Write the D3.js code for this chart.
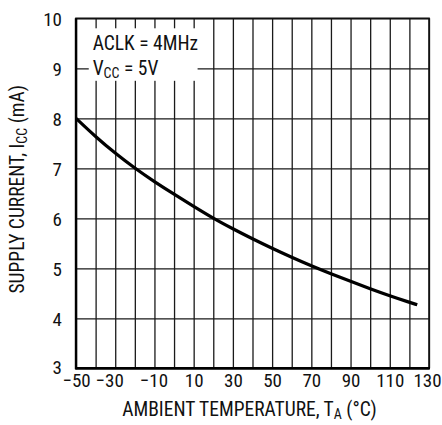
<!DOCTYPE html>
<html>
<head>
<meta charset="utf-8">
<script src="https://cdn.jsdelivr.net/npm/d3@7"></script>
<style>
  html, body { margin: 0; padding: 0; background: #fff; }
  svg { display: block; }
  text { font-family: "Liberation Sans Narrow", "Arial Narrow", "Roboto Condensed", "DejaVu Sans Condensed", sans-serif; fill: #111; }
</style>
</head>
<body>
<svg id="chart" width="442" height="425"></svg>
<script>
// Data
const temperature = [-50, -40, -30, -20, -10, 0, 10, 20, 30, 40, 50, 60, 70, 80, 90, 100, 110, 120, 124];
const supplyCurrent = [8.0, 7.63, 7.30, 7.0, 6.73, 6.48, 6.24, 6.0, 5.79, 5.59, 5.40, 5.22, 5.05, 4.89, 4.74, 4.59, 4.45, 4.32, 4.27];
const xTicks = [-50, -40, -30, -20, -10, 0, 10, 20, 30, 40, 50, 60, 70, 80, 90, 100, 110, 120, 130];
const xTickLabels = [-50, -30, -10, 10, 30, 50, 70, 90, 110, 130];
const yTicks = [3, 4, 5, 6, 7, 8, 9, 10];

const svg = d3.select("#chart");
const mLeft = 76, mRight = 429, mTop = 18.3, mBottom = 368.3;
const x = d3.scaleLinear().domain([-50, 130]).range([mLeft, mRight]);
const y = d3.scaleLinear().domain([3, 10]).range([mBottom, mTop]);
const fs = 19, fsT = 19.5, fsSub = 14;

// vertical grid
svg.append("g")
  .attr("transform", `translate(0,${mBottom})`)
  .call(d3.axisBottom(x).tickValues(xTicks).tickSize(-(mBottom - mTop)).tickFormat(""))
  .call(g => g.select(".domain").remove())
  .call(g => g.selectAll(".tick line").attr("stroke", "#1a1a1a").attr("stroke-width", 1.3));

// horizontal grid
svg.append("g")
  .attr("transform", `translate(${mLeft},0)`)
  .call(d3.axisLeft(y).tickValues(yTicks).tickSize(-(mRight - mLeft)).tickFormat(""))
  .call(g => g.select(".domain").remove())
  .call(g => g.selectAll(".tick line").attr("stroke", "#1a1a1a").attr("stroke-width", 1.3));

// legend white box
svg.append("rect")
  .attr("x", x(-43.5)).attr("y", y(9.8))
  .attr("width", x(12) - x(-43.5)).attr("height", y(8.75) - y(9.8))
  .attr("fill", "#fff");

// frame
svg.append("rect")
  .attr("x", mLeft).attr("y", mTop).attr("width", mRight - mLeft).attr("height", mBottom - mTop)
  .attr("fill", "none").attr("stroke", "#111").attr("stroke-width", 1.6);
svg.append("line").attr("x1", mLeft).attr("x2", mLeft).attr("y1", mTop).attr("y2", mBottom + 1)
  .attr("stroke", "#000").attr("stroke-width", 2.4);
svg.append("line").attr("x1", mLeft - 1).attr("x2", mRight + 1).attr("y1", mBottom).attr("y2", mBottom)
  .attr("stroke", "#000").attr("stroke-width", 2.4);

// curve
const line = d3.line()
  .x((d, i) => x(temperature[i]))
  .y(d => y(d))
  .curve(d3.curveBasis);
svg.append("path")
  .datum(supplyCurrent)
  .attr("d", line)
  .attr("fill", "none")
  .attr("stroke", "#000")
  .attr("stroke-width", 3.2)
  .attr("stroke-linecap", "butt");

// y tick labels
svg.append("g")
  .attr("transform", `translate(${mLeft},0)`)
  .call(d3.axisLeft(y).tickValues(yTicks).tickSize(0).tickPadding(14).tickFormat(d3.format("d")))
  .call(g => g.select(".domain").remove())
  .call(g => g.selectAll("text").attr("font-size", fs).attr("font-family", null)
    .attr("dy", d => d === 3 ? "0.25em" : "0.36em"));

// x tick labels
svg.append("g")
  .attr("transform", `translate(0,${mBottom})`)
  .call(d3.axisBottom(x).tickValues(xTickLabels).tickSize(0).tickPadding(5).tickFormat(d3.format("d")))
  .call(g => g.select(".domain").remove())
  .call(g => g.selectAll("text").attr("font-size", fs).attr("font-family", null).attr("dy", "0.71em")
    .attr("dx", d => d === -50 ? 0 : d === -30 ? -6 : d === -10 ? -1 : d === 130 ? -2 : 0));

// legend text
const lg = svg.append("g").attr("font-size", fsT);
lg.append("text").attr("x", x(-41.5)).attr("y", y(9.37)).text("ACLK = 4MHz");
const t2 = lg.append("text").attr("x", x(-41.5)).attr("y", y(8.87));
t2.append("tspan").text("V");
t2.append("tspan").attr("font-size", fsSub).attr("dy", 3).text("CC");
t2.append("tspan").attr("dy", -3).text(" = 5V");

// x title
const xt = svg.append("text")
  .attr("x", (mLeft + mRight) / 2 - 3).attr("y", 416)
  .attr("text-anchor", "middle").attr("font-size", fsT);
xt.append("tspan").text("AMBIENT TEMPERATURE, T");
xt.append("tspan").attr("font-size", fsSub).attr("dy", 3).text("A");
xt.append("tspan").attr("dy", -3).text(" (°C)");

// y title
const yt = svg.append("text")
  .attr("transform", `translate(24,${(mTop + mBottom) / 2 - 4}) rotate(-90)`)
  .attr("text-anchor", "middle").attr("font-size", fsT);
yt.append("tspan").text("SUPPLY CURRENT, I");
yt.append("tspan").attr("font-size", fsSub).attr("dy", 3).text("CC");
yt.append("tspan").attr("dy", -3).text(" (mA)");
</script>
</body>
</html>
